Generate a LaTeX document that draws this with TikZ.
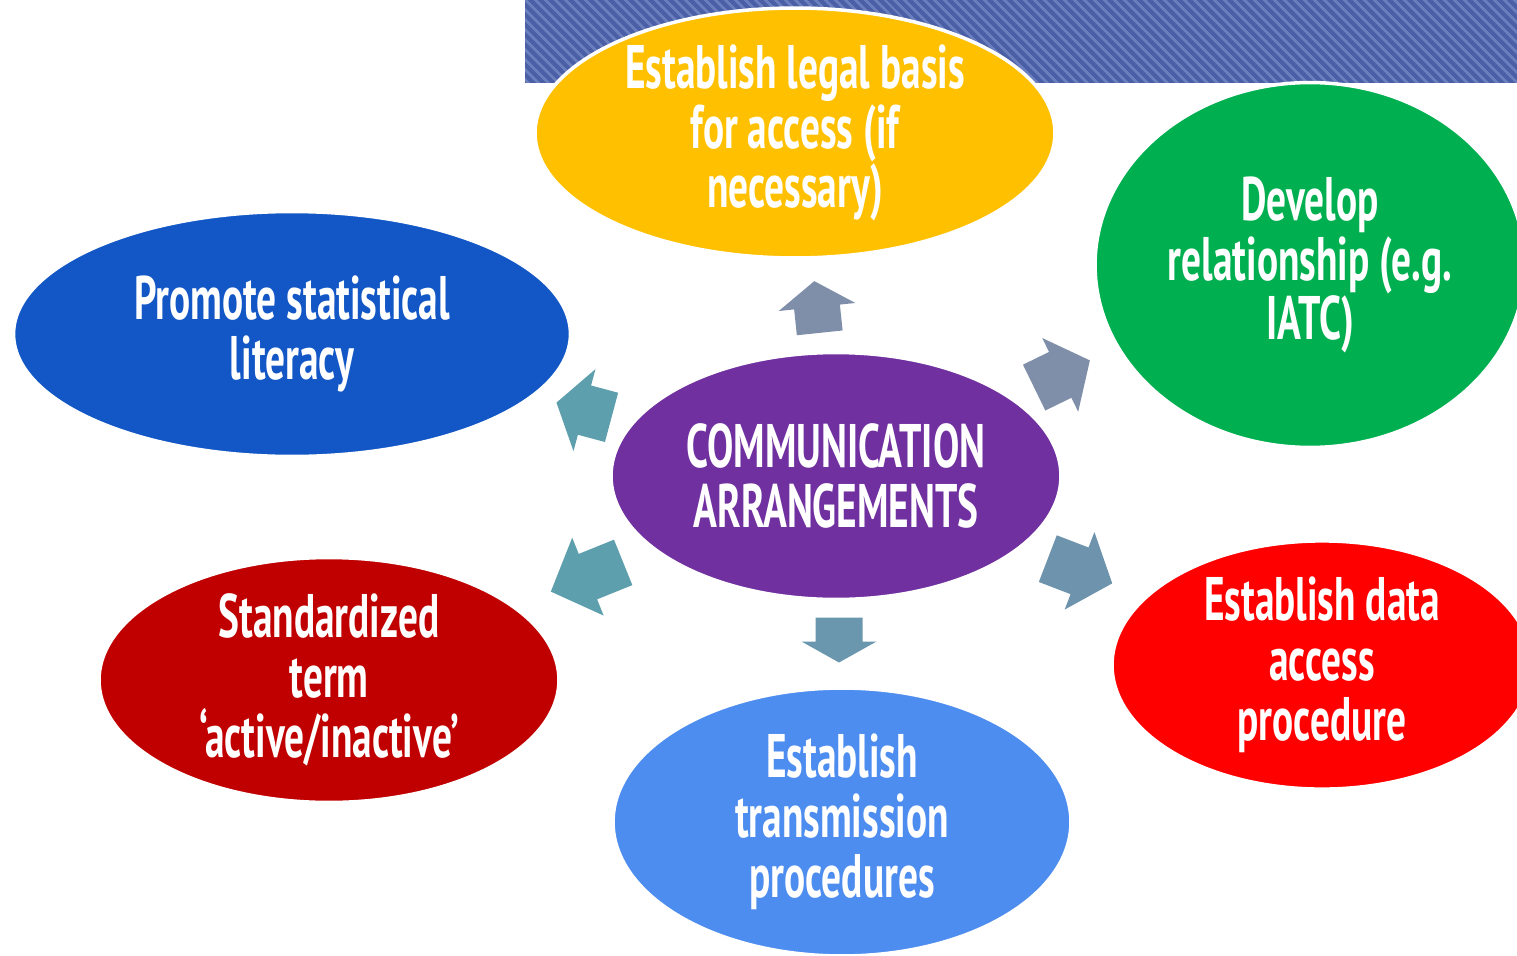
\documentclass[tikz,border=0pt]{standalone}
\usepackage{fontspec}
\newfontfamily\agency[FakeStretch=0.64]{PT Sans}
\usetikzlibrary{shapes.geometric,patterns.meta}
\definecolor{cYellow}{HTML}{FFC000}
\definecolor{cGreen}{HTML}{00B050}
\definecolor{cBlue}{HTML}{1257C5}
\definecolor{cPurple}{HTML}{7030A0}
\definecolor{cDarkRed}{HTML}{C00000}
\definecolor{cRed}{HTML}{FF0000}
\definecolor{cLightBlue}{HTML}{4D8DEF}
\definecolor{cBanner}{HTML}{4A5FA6}
\definecolor{cBannerLine}{HTML}{6A7EBD}
\definecolor{aGrey}{HTML}{7F8FAA}
\definecolor{aTeal}{HTML}{5E9FAD}
\definecolor{aMid}{HTML}{6E93AD}
\definecolor{aDown}{HTML}{6A97AD}
\tikzset{
  bubble/.style={ellipse, draw=white, line width=2pt, inner sep=0pt,
    text=white, align=center,
    font=\agency\bfseries\fontsize{35pt}{34pt}\selectfont},
}
% block arrow: center x, center y, angle, length, shaft width, head width, head length, colour
\newcommand\blockarr[8]{%
  \begin{scope}[shift={(#1,#2)}, rotate=#3]
    \fill[#8] (-#4/2,-#5/2) -- (#4/2-#7,-#5/2) -- (#4/2-#7,-#6/2) -- (#4/2,0)
      -- (#4/2-#7,#6/2) -- (#4/2-#7,#5/2) -- (-#4/2,#5/2) -- cycle;
  \end{scope}}
\begin{document}
\begin{tikzpicture}[x=0.02cm, y=-0.02cm]
\useasboundingbox (0,0) rectangle (1517,956);
\clip (0,0) rectangle (1517,956);
\fill[white] (0,0) rectangle (1517,956);
% banner
\fill[cBanner] (525,0) rectangle (1517,83);
\fill[pattern={Lines[angle=-45, distance=4pt, line width=1.6pt]}, pattern color=cBannerLine] (525,0) rectangle (1517,83);
% ellipses
\node[bubble, fill=cYellow, minimum width=10.4cm, minimum height=4.9cm] (legal) at (795,133)
  {Establish legal basis\\for access (if\\necessary)};
\node[bubble, fill=cGreen, minimum width=8.6cm, minimum height=7.3cm] (relation) at (1310,265)
  {Develop\\relationship (e.g.\\IATC)};
\node[bubble, fill=cBlue, minimum width=11.14cm, minimum height=4.9cm] (literacy) at (292,334)
  {Promote statistical\\literacy};
\node[bubble, fill=cPurple, minimum width=9.0cm, minimum height=4.94cm] (center) at (836,476)
  {COMMUNICATION\\ARRANGEMENTS};
\node[bubble, fill=cDarkRed, minimum width=9.2cm, minimum height=4.9cm] (term) at (329,680)
  {Standardized\\term\\‘active/inactive’};
\node[bubble, fill=cRed, minimum width=8.4cm, minimum height=4.9cm] (access) at (1322,665)
  {Establish data\\access\\procedure};
\node[bubble, fill=cLightBlue, minimum width=9.16cm, minimum height=5.36cm] (transmission) at (842,822)
  {Establish\\transmission\\procedures};
% block arrows
\blockarr{817}{307}{96}{52}{46}{77}{26}{aGrey}
\blockarr{1062}{374}{26}{62}{51}{82}{33}{aGrey}
\blockarr{584}{410}{165}{57}{51}{85}{29}{aTeal}
\blockarr{587}{577}{202}{78}{49}{84}{40}{aTeal}
\blockarr{1080}{571}{-21}{69}{50}{83}{35}{aMid}
\blockarr{839}{640}{-90}{45}{47}{75}{21}{aDown}
\end{tikzpicture}
\end{document}
